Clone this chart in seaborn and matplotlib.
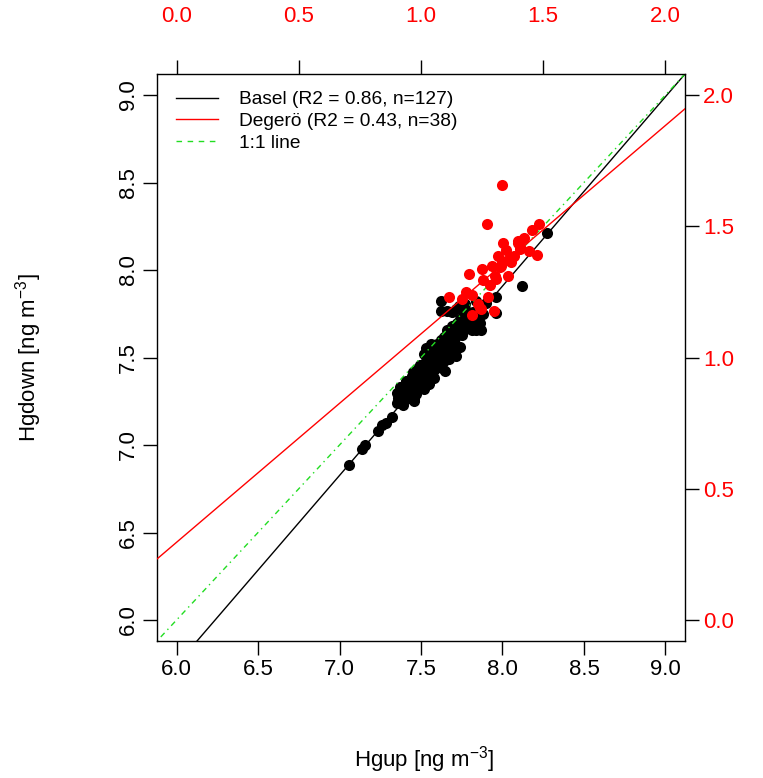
import matplotlib
matplotlib.use("Agg")
import matplotlib.pyplot as plt
import seaborn as sns
from matplotlib.lines import Line2D

# Basel: Hgup vs Hgdown [ng m-3] (bottom / left axes)
basel_up = [7.061, 7.139, 7.156, 7.237, 7.262, 7.286, 7.320, 7.354, 7.375, 7.409,
            7.406, 7.457, 7.471, 7.436, 7.483, 7.492, 7.529, 7.518, 7.549, 7.538,
            7.569, 7.590, 7.610, 7.647, 7.631, 7.661, 7.682, 7.717, 7.703, 7.723,
            7.744, 7.764, 7.836, 7.774, 7.621, 7.621, 7.692, 7.959, 7.754, 7.580,
            7.508, 7.446, 7.487, 7.436, 7.395, 8.120, 8.274, 7.661, 7.713, 7.733,
            7.770, 7.836, 7.897, 7.962, 7.733, 7.795, 7.846,
            7.38, 7.40, 7.42, 7.43, 7.45, 7.46, 7.47, 7.48, 7.49, 7.50,
            7.50, 7.51, 7.52, 7.53, 7.54, 7.55, 7.55, 7.56, 7.57, 7.58,
            7.58, 7.59, 7.60, 7.60, 7.61, 7.62, 7.62, 7.63, 7.64, 7.64,
            7.65, 7.66, 7.66, 7.67, 7.68, 7.69, 7.69, 7.70, 7.71, 7.72,
            7.73, 7.74, 7.75, 7.76, 7.78, 7.79, 7.80, 7.81, 7.82, 7.84,
            7.86, 7.87, 7.88, 7.44, 7.46, 7.36, 7.39, 7.41, 7.53, 7.57,
            7.63, 7.67, 7.70, 7.74, 7.45, 7.35, 7.48, 7.37, 7.52, 7.56]
basel_down = [6.886, 6.979, 6.998, 7.080, 7.112, 7.124, 7.162, 7.238, 7.299, 7.365,
              7.261, 7.261, 7.289, 7.327, 7.384, 7.460, 7.556, 7.322, 7.346, 7.432,
              7.403, 7.460, 7.489, 7.422, 7.565, 7.622, 7.527, 7.508, 7.593, 7.641,
              7.679, 7.656, 7.656, 7.717, 7.764, 7.821, 7.759, 7.755, 7.793, 7.384,
              7.403, 7.394, 7.346, 7.299, 7.318, 7.911, 8.213, 7.764, 7.778, 7.793,
              7.803, 7.821, 7.812, 7.844, 7.689, 7.679, 7.679,
              7.26, 7.29, 7.30, 7.35, 7.33, 7.36, 7.31, 7.40, 7.35, 7.38,
              7.42, 7.45, 7.40, 7.48, 7.44, 7.38, 7.50, 7.47, 7.52, 7.43,
              7.55, 7.49, 7.53, 7.58, 7.45, 7.51, 7.60, 7.55, 7.48, 7.62,
              7.58, 7.54, 7.66, 7.60, 7.63, 7.57, 7.68, 7.65, 7.61, 7.70,
              7.66, 7.72, 7.63, 7.74, 7.70, 7.76, 7.73, 7.66, 7.76, 7.72,
              7.70, 7.66, 7.75, 7.28, 7.25, 7.27, 7.23, 7.33, 7.36, 7.41,
              7.44, 7.49, 7.53, 7.56, 7.42, 7.30, 7.44, 7.33, 7.52, 7.58]

# Degeroe: Hgup vs Hgdown [ng m-3] (top / right axes)
degero_up = [1.333, 1.272, 1.336, 1.395, 1.484, 1.454, 1.406, 1.443, 1.474, 1.317,
             1.364, 1.381, 1.333, 1.292, 1.323, 1.251, 1.197, 1.254, 1.303, 1.354,
             1.306, 1.183, 1.210, 1.115, 1.276, 1.235, 1.245, 1.208, 1.299, 1.405,
             1.327, 1.422, 1.369, 1.283, 1.168, 1.348, 1.240, 1.398]
degero_down = [1.659, 1.507, 1.438, 1.438, 1.510, 1.487, 1.413, 1.404, 1.392, 1.388,
               1.383, 1.385, 1.366, 1.347, 1.343, 1.338, 1.319, 1.294, 1.309, 1.312,
               1.299, 1.248, 1.240, 1.229, 1.229, 1.202, 1.183, 1.163, 1.176, 1.421,
               1.350, 1.456, 1.365, 1.278, 1.221, 1.411, 1.190, 1.442]

# regression fits (intercept, slope)
basel_fit = (-0.748, 1.082)
degero_fit = (0.296, 0.794)

basel_ticks = [6.0, 6.5, 7.0, 7.5, 8.0, 8.5, 9.0]
degero_ticks = [0.0, 0.5, 1.0, 1.5, 2.0]
legend_labels = ["Basel (R2 = 0.86, n=127)", "Deger\u00f6 (R2 = 0.43, n=38)", "1:1 line"]

plt.rcParams['font.family'] = ['Liberation Sans', 'DejaVu Sans']
plt.rcParams['mathtext.fontset'] = 'custom'
plt.rcParams['mathtext.rm'] = 'Liberation Sans'
plt.rcParams['mathtext.it'] = 'Liberation Sans:italic'
plt.rcParams['axes.linewidth'] = 1.0

W, H = 763, 778
fig = plt.figure(figsize=(W / 100, H / 100), dpi=100)
rect = [157 / W, 1 - 641 / H, 528 / W, 567 / H]
ax = fig.add_axes(rect)
ax2 = fig.add_axes(rect, frameon=False)

green = '#22dd22'

# Basel in the main coordinates
sns.scatterplot(x=basel_up, y=basel_down, color='black', s=64, linewidth=0, ax=ax, legend=False)
ax.axline((0, basel_fit[0]), slope=basel_fit[1], color='black', lw=1)
ax.axline((6, 6), slope=1, color=green, lw=1, dashes=(1, 3, 4, 3))
ax.set_xlim(5.88, 9.12)
ax.set_ylim(5.88, 9.12)
ax.set_xticks(basel_ticks)
ax.set_xticklabels([f"{t:.1f}" for t in basel_ticks])
ax.set_yticks(basel_ticks)
ax.set_yticklabels([f"{t:.1f}" for t in basel_ticks])
ax.tick_params(direction='out', length=10, width=1, labelsize=16)
ax.tick_params(axis='x', pad=3)
ax.tick_params(axis='y', pad=3)
for lbl in ax.get_yticklabels():
    lbl.set_rotation(90)
    lbl.set_va('center')

# Degeroe on the secondary coordinates
sns.scatterplot(x=degero_up, y=degero_down, color='red', s=64, linewidth=0, ax=ax2, legend=False)
ax2.axline((0, degero_fit[0]), slope=degero_fit[1], color='red', lw=1)
ax2.set_xlim(-0.08, 2.08)
ax2.set_ylim(-0.08, 2.08)
ax2.set_xticks(degero_ticks)
ax2.set_xticklabels([f"{t:.1f}" for t in degero_ticks])
ax2.set_yticks(degero_ticks)
ax2.set_yticklabels([f"{t:.1f}" for t in degero_ticks])
ax2.xaxis.tick_top()
ax2.yaxis.tick_right()
ax2.tick_params(direction='out', length=10, width=1, labelsize=16, labelcolor='red', color='black')
ax2.tick_params(axis='x', pad=24)
ax2.tick_params(axis='y', pad=3)

handles = [Line2D([], [], color='black', lw=1),
           Line2D([], [], color='red', lw=1),
           Line2D([], [], color=green, lw=1, dashes=(4, 4))]
ax2.legend(handles, legend_labels, loc='upper left', bbox_to_anchor=(176 / W, 1 - 91 / H),
           bbox_transform=fig.transFigure, frameon=False, fontsize=13.8,
           handlelength=2.2, handletextpad=1.1, labelspacing=0.22,
           borderpad=0, borderaxespad=0)

fig.text(424 / W, 1 - 760 / H, r"Hgup [ng m$^{-3}$]", ha='center', va='center', fontsize=16)
fig.text(29 / W, 1 - 358 / H, r"Hgdown [ng m$^{-3}$]", ha='center', va='center',
         rotation=90, fontsize=16)

fig.savefig("out.png", dpi=100)
